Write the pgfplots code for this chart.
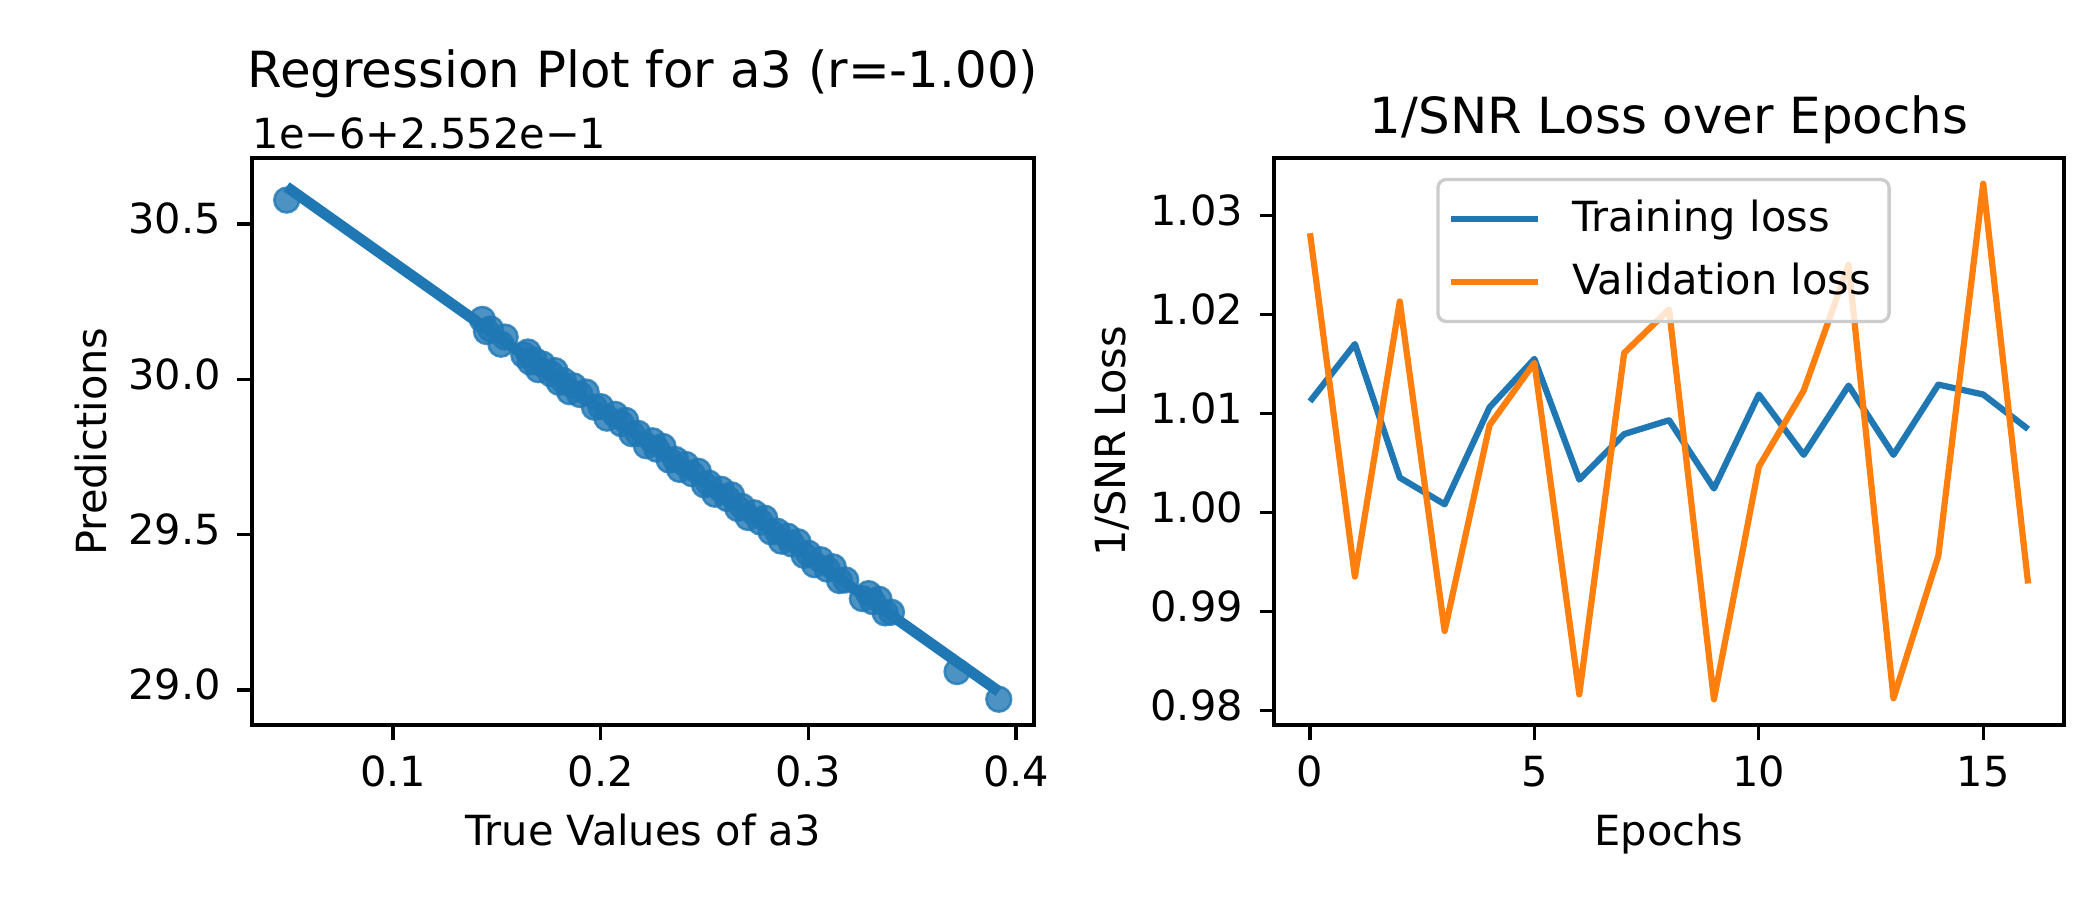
\documentclass[border=0pt]{standalone}
\usepackage{fontspec}
\setmainfont{DejaVu Sans}
\usepackage{pgfplots}
\pgfplotsset{compat=1.18}
\definecolor{tabblue}{HTML}{1F77B4}
\definecolor{taborange}{HTML}{FF7F0E}
\pgfplotsset{
  mpl/.style={
    scale only axis,
    height=1.89in,
    axis line style={line width=0.8pt},
    tick align=outside,
    tick pos=left,
    major tick length=3.5pt,
    tick style={black, line width=0.8pt},
    /pgf/number format/assume math mode=true,
    xticklabel style={anchor=base, inner sep=0pt, yshift=-11.4pt},
    yticklabel style={anchor=east, inner sep=0pt, xshift=-3.8pt},
    typeset ticklabels with strut=false,
    label style={font=\fontsize{10}{12}\selectfont},
    xlabel style={at={(axis description cs:0.5,0)}, anchor=base, yshift=-29.1pt, inner sep=0pt},
    title style={font=\fontsize{12}{14}\selectfont, at={(axis description cs:0.5,1)}, anchor=base, inner sep=0pt},
  }
}
\begin{document}
\begin{tikzpicture}
\path[use as bounding box] (0,0) rectangle (7in,3in);
% ---------------- left axis ----------------
\begin{axis}[mpl,
  at={(0.84in,0.5833in)}, anchor=south west,
  width=2.607in,
  xmin=0.0321, xmax=0.4087,
  ymin=28.887, ymax=30.7125,
  xtick={0.1,0.2,0.3,0.4},
  ytick={29.0,29.5,30.0,30.5},
  xticklabel style={/pgf/number format/.cd, fixed, precision=1},
  yticklabel style={/pgf/number format/.cd, fixed, fixed zerofill, precision=1},
  xlabel={True Values of a3},
  ylabel={Predictions},
  ylabel style={at={(axis description cs:-0.206,0.5)}, anchor=center, rotate=0},
  title={Regression Plot for a3 (r=-1.00)},
  title style={yshift=10.9pt},
  clip=false,
]
\addplot[only marks, mark=*, mark size=3pt,
  mark options={fill=tabblue, draw=tabblue, fill opacity=0.8, draw opacity=0.8, line width=0.6pt}]
coordinates {
(0.0488,30.577)
(0.143,30.193) (0.145,30.154) (0.147,30.162) (0.152,30.113) (0.154,30.136)
(0.163,30.078) (0.165,30.088) (0.166,30.056) (0.168,30.062) (0.170,30.031) (0.172,30.049)
(0.176,30.018) (0.178,30.028) (0.180,29.990) (0.182,29.996) (0.185,29.960) (0.187,29.979)
(0.190,29.951) (0.193,29.959) (0.197,29.910) (0.200,29.912) (0.203,29.875) (0.207,29.887)
(0.210,29.857) (0.212,29.868) (0.215,29.825) (0.218,29.826) (0.222,29.786) (0.225,29.802)
(0.227,29.775) (0.230,29.784) (0.233,29.740) (0.236,29.742) (0.238,29.710) (0.241,29.726)
(0.244,29.696) (0.247,29.704) (0.250,29.660) (0.252,29.666) (0.255,29.630) (0.258,29.646)
(0.261,29.616) (0.263,29.628) (0.266,29.584) (0.268,29.591) (0.271,29.555) (0.274,29.570)
(0.277,29.540) (0.279,29.553) (0.282,29.509) (0.285,29.511) (0.287,29.479) (0.290,29.495)
(0.292,29.470) (0.295,29.477) (0.298,29.433) (0.300,29.440) (0.303,29.403) (0.306,29.419)
(0.309,29.389) (0.312,29.396) (0.315,29.352) (0.318,29.354)
(0.326,29.294) (0.329,29.310) (0.331,29.284) (0.334,29.292) (0.337,29.248) (0.340,29.250)
(0.3716,29.059) (0.3917,28.970)
};
\addplot[tabblue, line width=2.625pt, line cap=butt] coordinates {(0.0487,30.620) (0.3917,28.995)};
\node[anchor=base west, inner sep=0pt, font=\fontsize{10}{12}\selectfont] at ([yshift=2.3pt]rel axis cs:0,1) {1e−6+2.552e−1};
\end{axis}
% ---------------- right axis ----------------
\begin{axis}[mpl,
  at={(4.247in,0.5833in)}, anchor=south west,
  width=2.633in,
  xmin=-0.8, xmax=16.8,
  ymin=0.9785, ymax=1.0358,
  xtick={0,5,10,15},
  ytick={0.98,0.99,1.00,1.01,1.02,1.03},
  yticklabel style={/pgf/number format/.cd, fixed, fixed zerofill, precision=2},
  xlabel={Epochs},
  ylabel={1/SNR Loss},
  ylabel style={at={(axis description cs:-0.205,0.5)}, anchor=center, rotate=0},
  title={1/SNR Loss over Epochs},
  title style={yshift=0pt},
  legend style={at={(0.493,0.965)}, anchor=north, draw=black!20, line width=0.8pt,
    rounded corners=2pt, fill=white, fill opacity=0.8, text opacity=1,
    font=\fontsize{10}{12}\selectfont, inner xsep=2.4pt, inner ysep=3pt,
    row sep=2pt, cells={anchor=west}},
  legend image code/.code={\draw[#1, line width=1.5pt] (0pt,0pt) -- (21pt,0pt); \path (26.5pt,0pt);},
]
\addplot[tabblue, line width=1.5pt, line join=round] coordinates {
(0,1.0112) (1,1.0170) (2,1.0035) (3,1.0008) (4,1.0106) (5,1.0155) (6,1.0033) (7,1.0079)
(8,1.0093) (9,1.0024) (10,1.0119) (11,1.0058) (12,1.0128) (13,1.0058) (14,1.0129) (15,1.0119) (16,1.0084)
};
\addlegendentry{Training loss}
\addplot[taborange, line width=1.5pt, line join=round] coordinates {
(0,1.0282) (1,0.9935) (2,1.0213) (3,0.9880) (4,1.0088) (5,1.0151) (6,0.9816) (7,1.0161)
(8,1.0205) (9,0.9811) (10,1.0046) (11,1.0123) (12,1.0250) (13,0.9812) (14,0.9956) (15,1.0332) (16,0.9928)
};
\addlegendentry{Validation loss}
\end{axis}
\end{tikzpicture}
\end{document}
